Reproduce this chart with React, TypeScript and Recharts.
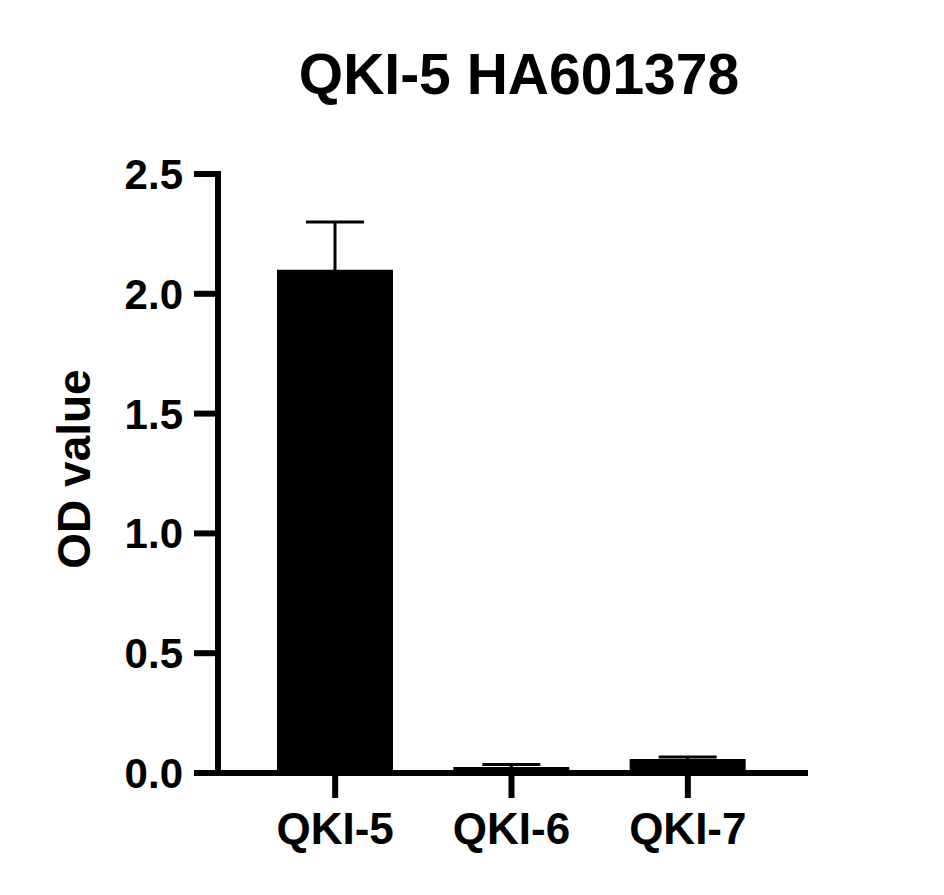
import { BarChart, Bar, XAxis, YAxis, ErrorBar, Cell } from 'recharts';

const categories = ['QKI-5', 'QKI-6', 'QKI-7'];
const odValues = [2.1, 0.025, 0.058];
const odErrors = [0.2, 0.01, 0.009];
const yTicks = [0, 0.5, 1.0, 1.5, 2.0, 2.5];

const FONT = '"Liberation Sans", Arial, sans-serif';

export default function App() {
  const chartData = categories.map((name, i) => ({ name, od: odValues[i], err: odErrors[i] }));

  return (
    <div style={{ position: 'absolute', left: 0, top: 0, width: 944, height: 895, background: '#fff', fontFamily: FONT }}>
      <BarChart
        width={944}
        height={895}
        data={chartData}
        margin={{ top: 174, right: 136, bottom: 42, left: 0 }}
      >
        <XAxis
          dataKey="name"
          height={80}
          padding={{ left: 29, right: 32 }}
          axisLine={{ stroke: '#000', strokeWidth: 6 }}
          tickLine={{ stroke: '#000', strokeWidth: 6 }}
          tickSize={25}
          tickMargin={15}
          tick={{ fill: '#000', fontSize: 44, fontWeight: 700, fontFamily: FONT }}
        />
        <YAxis
          width={218}
          domain={[0, 2.5]}
          ticks={yTicks}
          interval={0}
          tickFormatter={(v: number) => v.toFixed(1)}
          axisLine={{ stroke: '#000', strokeWidth: 6, strokeLinecap: 'square' }}
          tickLine={{ stroke: '#000', strokeWidth: 6 }}
          tickSize={24}
          tickMargin={11}
          tick={{ fill: '#000', fontSize: 42, fontWeight: 700, fontFamily: FONT }}
        />
        <Bar dataKey="od" barSize={116} fill="#000" isAnimationActive={false}>
          {chartData.map((d) => (
            <Cell key={d.name} fill="#000" />
          ))}
          <ErrorBar dataKey="err" width={29} stroke="#000" strokeWidth={3} direction="y" isAnimationActive={false} />
        </Bar>
      </BarChart>
      <svg width={944} height={895} style={{ position: 'absolute', left: 0, top: 0, pointerEvents: 'none' }}>
        <text x={519} y={94} textAnchor="middle" fontFamily={FONT} fontWeight={700} fontSize={57} fill="#000">
          QKI-5 HA601378
        </text>
        <text
          x={90}
          y={469}
          transform="rotate(-90, 90, 469)"
          textAnchor="middle"
          fontFamily={FONT}
          fontWeight={700}
          fontSize={46}
          fill="#000"
        >
          OD value
        </text>
      </svg>
    </div>
  );
}
